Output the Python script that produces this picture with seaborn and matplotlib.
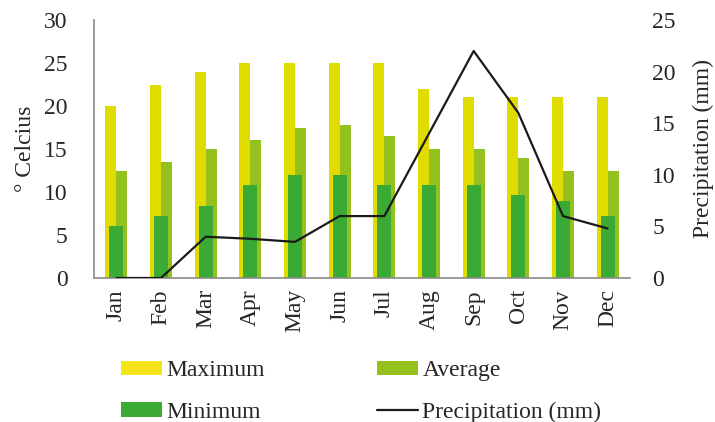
import numpy as np
import pandas as pd
import matplotlib
matplotlib.use("Agg")
import matplotlib.pyplot as plt
import seaborn as sns
from matplotlib.patches import Patch
from matplotlib.lines import Line2D

months = ["Jan", "Feb", "Mar", "Apr", "May", "Jun",
          "Jul", "Aug", "Sep", "Oct", "Nov", "Dec"]
maximum = [20, 22.5, 24, 25, 25, 25, 25, 22, 21, 21, 21, 21]
average = [12.5, 13.5, 15, 16, 17.5, 17.8, 16.5, 15, 15, 14, 12.5, 12.5]
minimum = [6, 7.2, 8.4, 10.8, 12, 12, 10.8, 10.8, 10.8, 9.6, 9, 7.2]
precipitation = [0, 0, 4, 3.8, 3.5, 6, 6, 14, 22, 16, 6, 4.8]

c_max = "#E0DC00"
c_avg = "#95C11F"
c_min = "#3AAA35"
c_line = "#1A1A1A"

sns.set_style("white")
plt.rcParams["font.family"] = ["Liberation Serif", "DejaVu Serif"]
FS = 17

fig = plt.figure(figsize=(7.15, 4.22), dpi=100)
ax = fig.add_axes([94 / 715, 1 - 278 / 422, (630 - 94) / 715, (278 - 20) / 422])

temps = pd.DataFrame({
    "month": months * 2,
    "value": maximum + average,
    "series": ["Maximum"] * 12 + ["Average"] * 12,
})
sns.barplot(data=temps, x="month", y="value", hue="series",
            order=months, hue_order=["Maximum", "Average"],
            palette=[c_max, c_avg], width=0.49, gap=0, dodge=True,
            saturation=1, legend=False, ax=ax, linewidth=0)
sns.barplot(x=months, y=minimum, order=months, color=c_min, width=0.31,
            saturation=1, ax=ax, linewidth=0)

ax2 = ax.twinx()
sns.lineplot(x=np.arange(len(months)), y=precipitation, color=c_line,
             linewidth=1.6, ax=ax2)

ax.set_xlim(-0.5, 11.5)
ax2.set_xlim(-0.5, 11.5)
ax.set_ylim(0, 30)
ax2.set_ylim(0, 25)
ax.set_yticks(range(0, 31, 5))
ax2.set_yticks(range(0, 26, 5))

ax.set_xlabel("")
ax.set_ylabel("° Celcius", fontsize=FS, labelpad=6)
ax2.set_ylabel("Precipitation (mm)", fontsize=FS, labelpad=12)

ax.tick_params(axis="x", labelrotation=90, labelsize=FS, length=0, pad=8)
ax.tick_params(axis="y", labelsize=FS, length=0, pad=19)
ax2.tick_params(axis="y", labelsize=FS, length=0, pad=16)

for a in (ax, ax2):
    for s in a.spines.values():
        s.set_visible(False)
for s in ("left", "bottom"):
    ax.spines[s].set_visible(True)
    ax.spines[s].set_color("#8A8A8A")
    ax.spines[s].set_linewidth(1.2)

handles = [
    Patch(facecolor="#F5E31A", edgecolor="none", label="Maximum"),
    Patch(facecolor=c_min, edgecolor="none", label="Minimum"),
    Patch(facecolor=c_avg, edgecolor="none", label="Average"),
    Line2D([0], [0], color=c_line, linewidth=1.6, label="Precipitation (mm)"),
]
fig.legend(handles=handles, ncol=2, loc="upper left",
           bbox_to_anchor=(121 / 715, 1 - 360 / 422), frameon=False,
           borderpad=0, borderaxespad=0,
           fontsize=FS, handlelength=1.74, handleheight=0.55,
           handletextpad=0.17, columnspacing=4.77, labelspacing=0.88)

fig.savefig("out.png", dpi=100)
